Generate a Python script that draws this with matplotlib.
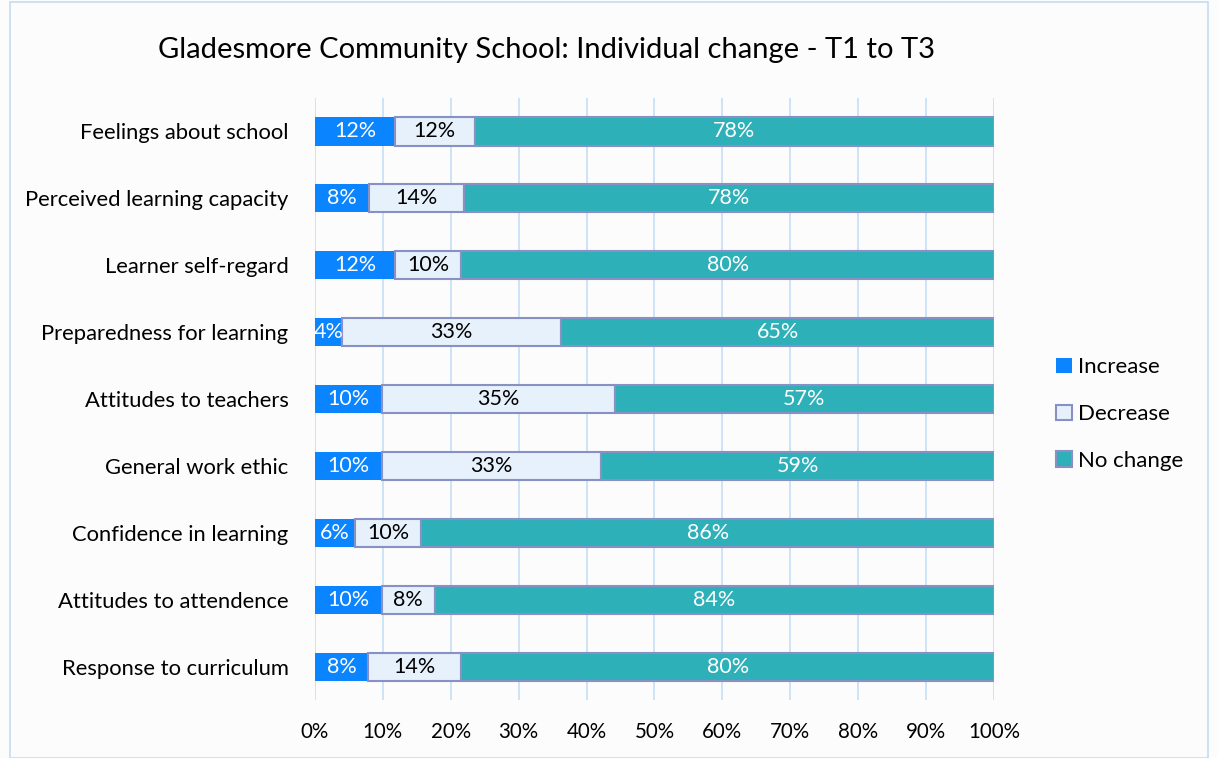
import numpy as np
from matplotlib import pyplot as plt
from matplotlib.patches import Rectangle

plt.rcParams['font.family'] = ['Lato', 'DejaVu Sans']

categories = ["Feelings about school", "Perceived learning capacity", "Learner self-regard",
              "Preparedness for learning", "Attitudes to teachers", "General work ethic",
              "Confidence in learning", "Attitudes to attendence", "Response to curriculum"]
increase = [12, 8, 12, 4, 10, 10, 6, 10, 8]
decrease = [12, 14, 10, 33, 35, 33, 10, 8, 14]
no_change = [78, 78, 80, 65, 57, 59, 86, 84, 80]
series_names = ["Increase", "Decrease", "No change"]
x_ticks = [0, 10, 20, 30, 40, 50, 60, 70, 80, 90, 100]

colors = ["#0A84FF", "#E6F1FC", "#2EB0B8"]
edges = ["none", "#8890C4", "#8890C4"]
text_colors = ["white", "black", "white"]

fig = plt.figure(figsize=(12.18, 7.58), dpi=100, facecolor="#FCFCFC")
fig.patches.append(Rectangle((0.008, 0.0), 0.984, 0.997, transform=fig.transFigure,
                             fill=False, edgecolor="#C5DCF2", linewidth=1.2))
ax = fig.add_axes([0.2586, 0.0765, 0.5575, 0.7942])
ax.set_facecolor("#FCFCFC")

data = np.array([increase, decrease, no_change], dtype=float)
pct = data / data.sum(axis=0) * 100
y = np.arange(len(categories))

left = np.zeros(len(categories))
for i, name in enumerate(series_names):
    ax.barh(y, pct[i], left=left, height=0.42, color=colors[i], edgecolor=edges[i],
            linewidth=1.5, label=name, zorder=3)
    for j in range(len(categories)):
        ax.text(left[j] + pct[i][j] / 2, y[j], f"{int(data[i][j])}%", ha="center", va="center",
                color=text_colors[i], fontsize=15.5, zorder=4)
    left += pct[i]

ax.set_xlim(0, 100)
ax.set_ylim(len(categories) - 0.5, -0.5)
ax.set_xticks(x_ticks)
ax.set_xticklabels([f"{t}%" for t in x_ticks], fontsize=14.8)
ax.set_yticks(y)
ax.set_yticklabels(categories, fontsize=15.8)
ax.tick_params(axis="x", length=0, pad=16)
ax.tick_params(axis="y", length=0, pad=19)
ax.grid(axis="x", color="#C7DEF6", linewidth=1.2, zorder=0)
for s in ax.spines.values():
    s.set_visible(False)

fig.text(0.449, 0.934, "Gladesmore Community School: Individual change - T1 to T3",
         ha="center", va="center", fontsize=21)

ax.legend(loc="center left", bbox_to_anchor=(1.062, 0.475), frameon=False, fontsize=16,
          handlelength=0.7, handleheight=0.7, handletextpad=0.3, labelspacing=1.2)

fig.savefig("out.png", dpi=100, facecolor=fig.get_facecolor())
